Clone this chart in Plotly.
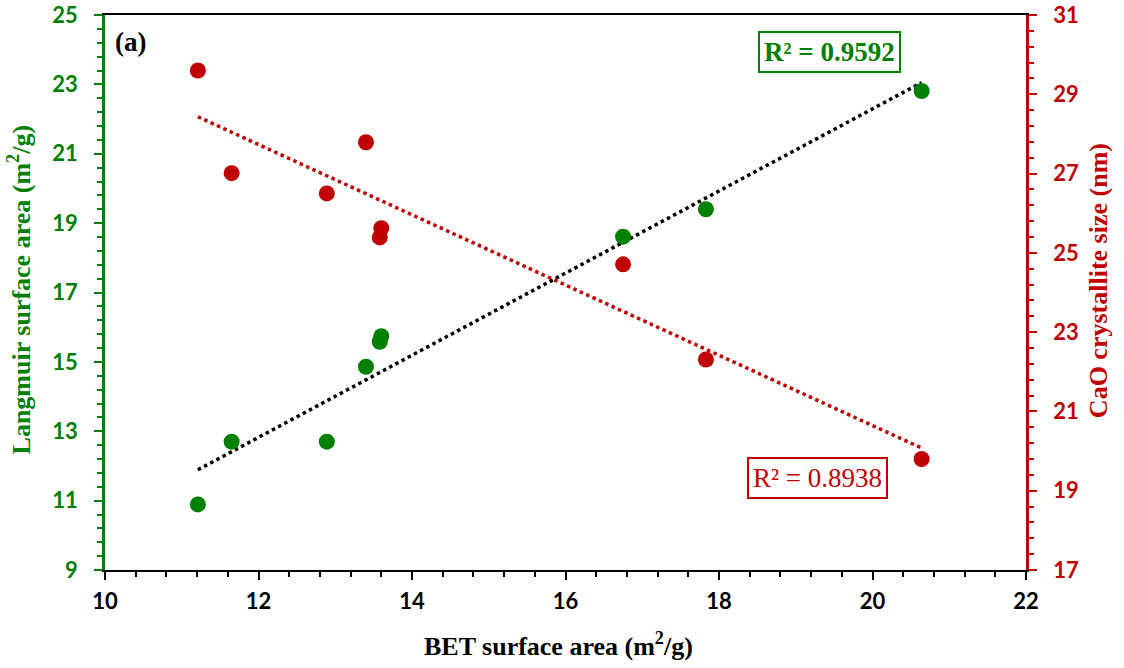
import numpy as np
import plotly.graph_objects as go

# BET surface area (m2/g) of each sample
bet_area = [11.21, 11.65, 12.89, 13.40, 13.58, 13.60, 16.75, 17.83, 20.64]
# Langmuir surface area (m2/g), left axis
langmuir_area = [10.89, 12.70, 12.70, 14.86, 15.58, 15.74, 18.61, 19.40, 22.81]
# CaO crystallite size (nm), right axis
cao_size = [29.60, 27.01, 26.50, 27.79, 25.39, 25.62, 24.71, 22.31, 19.80]

x_ticks = [10, 12, 14, 16, 18, 20, 22]
left_ticks = [9, 11, 13, 15, 17, 19, 21, 23, 25]
right_ticks = [17, 19, 21, 23, 25, 27, 29, 31]

GREEN = "#008000"
RED = "#C00000"
SERIF = "Liberation Serif, Times New Roman, serif"
SANS = "Lato, Carlito, Calibri, sans-serif"

x = np.array(bet_area)
x_fit = np.array([x.min(), x.max()])
g_coef = np.polyfit(x, np.array(langmuir_area), 1)
r_coef = np.polyfit(x, np.array(cao_size), 1)

fig = go.Figure()

# linear trend lines (dotted)
fig.add_trace(go.Scatter(
    x=x_fit, y=np.polyval(g_coef, x_fit), mode="lines",
    line=dict(color="black", width=3.5, dash="dot"), yaxis="y", showlegend=False,
))
fig.add_trace(go.Scatter(
    x=x_fit, y=np.polyval(r_coef, x_fit), mode="lines",
    line=dict(color=RED, width=3.5, dash="dot"), yaxis="y2", showlegend=False,
))

# measured points
fig.add_trace(go.Scatter(
    x=bet_area, y=langmuir_area, mode="markers",
    marker=dict(color=GREEN, size=16), yaxis="y", showlegend=False,
))
fig.add_trace(go.Scatter(
    x=bet_area, y=cao_size, mode="markers",
    marker=dict(color=RED, size=16), yaxis="y2", showlegend=False,
))

fig.update_layout(
    width=1124, height=668,
    margin=dict(l=105, r=98, t=15, b=98),
    paper_bgcolor="white", plot_bgcolor="white",
    showlegend=False,
    xaxis=dict(
        range=[10, 22], tickvals=x_ticks, showgrid=False, zeroline=False,
        automargin=False,
        showline=True, linecolor="black", linewidth=2, mirror=True,
        ticks="outside", ticklen=8, tickwidth=2, tickcolor="black",
        minor=dict(dtick=0.4, tick0=10, ticks="outside", ticklen=5,
                   tickwidth=1.5, tickcolor="black"),
        tickfont=dict(family=SANS, size=22, color="black", weight="bold"),
        ticklabelstandoff=3,
    ),
    yaxis=dict(
        range=[9, 25], tickvals=left_ticks, showgrid=False, zeroline=False,
        automargin=False,
        showline=True, linecolor=GREEN, linewidth=2.5,
        ticks="outside", ticklen=8, tickwidth=2, tickcolor=GREEN,
        minor=dict(dtick=0.4, tick0=9, ticks="outside", ticklen=5,
                   tickwidth=1.5, tickcolor=GREEN),
        tickfont=dict(family=SANS, size=22, color=GREEN, weight="bold"),
        ticklabelstandoff=12,
    ),
    yaxis2=dict(
        range=[17, 31], tickvals=right_ticks, overlaying="y", side="right",
        showgrid=False, zeroline=False, automargin=False,
        showline=True, linecolor=RED, linewidth=2.5,
        ticks="outside", ticklen=8, tickwidth=2, tickcolor=RED,
        minor=dict(dtick=0.4, tick0=17, ticks="outside", ticklen=5,
                   tickwidth=1.5, tickcolor=RED),
        tickfont=dict(family=SANS, size=22, color=RED, weight="bold"),
        ticklabelstandoff=12,
    ),
)

annotations = [
    # axis titles
    dict(text="BET surface area (m<sup>2</sup>/g)", xref="paper", yref="paper",
         x=0.4926, y=-0.134, xanchor="center", yanchor="middle", showarrow=False,
         font=dict(family=SERIF, size=26, color="black", weight="bold")),
    dict(text="Langmuir surface area (m<sup>2</sup>/g)", xref="paper", yref="paper",
         x=-0.0926, y=0.505, xanchor="center", yanchor="middle", showarrow=False,
         textangle=-90,
         font=dict(family=SERIF, size=26, color=GREEN, weight="bold")),
    dict(text="CaO crystallite size (nm)", xref="paper", yref="paper",
         x=1.078, y=0.522, xanchor="center", yanchor="middle", showarrow=False,
         textangle=-90,
         font=dict(family=SERIF, size=26, color=RED, weight="bold")),
    # panel label
    dict(text="(a)", xref="paper", yref="paper", x=0.028, y=0.951,
         xanchor="center", yanchor="middle", showarrow=False,
         font=dict(family=SERIF, size=27, color="black", weight="bold")),
    # fit statistics
    dict(text="R² = 0.9592", xref="paper", yref="paper", x=0.787, y=0.934,
         xanchor="center", yanchor="middle", showarrow=False,
         bordercolor=GREEN, borderwidth=2, borderpad=4, bgcolor="white",
         font=dict(family=SERIF, size=27, color=GREEN, weight="bold")),
    dict(text="R² = 0.8938", xref="paper", yref="paper", x=0.774, y=0.166,
         xanchor="center", yanchor="middle", showarrow=False,
         bordercolor=RED, borderwidth=2, borderpad=4, bgcolor="white",
         font=dict(family=SERIF, size=27, color=RED)),
]
fig.update_layout(annotations=annotations)

fig.write_html("out.html")
